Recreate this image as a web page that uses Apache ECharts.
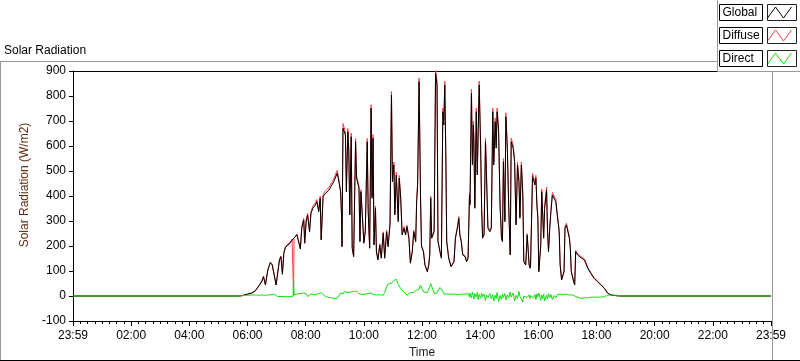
<!DOCTYPE html>
<html><head><meta charset="utf-8">
<script src="https://cdn.jsdelivr.net/npm/echarts@6/dist/echarts.min.js"></script>
<style>html,body{margin:0;padding:0;background:#fff}#c{width:800px;height:361px}</style>
</head><body><div id="c"></div>
<script>
// time in minutes since 23:59 of the previous day
const times = [
0,340,348,359,369,376,380,385,390,393,
397,402,407,411,415,419,422,426,429,432,
435,438,443,448,452,454,455,456,457,462,
466,469,472,476,478,481,484,488,491,495,
500,503,507,510,512,516,521,528,531,538,
545,548,552,554,555,557,560,562,564,567,
569,571,574,576,579,583,585,590,592,594,
598,600,603,607,609,612,615,617,619,621,
624,626,629,633,636,640,643,647,650,654,
657,659,662,664,667,671,673,676,679,683,
686,689,693,696,700,703,707,709,711,714,
717,719,723,726,731,734,736,738,740,745,
748,750,751,753,757,760,763,765,767,769,
771,775,780,786,789,793,796,798,801,804,
809,812,815,818,819,822,824,826,827,829,
832,834,836,838,841,843,845,848,851,853,
856,860,863,866,868,871,873,875,878,881,
884,886,888,891,893,896,899,902,904,908,
911,914,917,920,922,925,928,930,934,937,
941,943,944,948,950,953,955,957,959,961,
965,967,969,971,973,977,979,981,984,986,
989,993,996,999,1003,1005,1008,1011,1013,1015,
1018,1022,1024,1026,1028,1031,1033,1035,1037,1041,
1048,1055,1062,1068,1075,1082,1089,1096,1103,1110,
1122,1130,1440];
const globalVals = [
0,0,1,7,12,20,31,44,60,77,
44,104,133,124,117,44,40,144,157,87,
171,193,204,211,224,227,228,230,231,244,
237,188,271,304,211,297,324,257,331,351,
364,377,337,391,224,397,411,424,424,457,
491,464,417,324,197,671,677,644,417,657,
577,324,637,191,157,617,471,431,217,417,
284,211,257,617,337,191,751,391,631,204,
351,177,144,204,151,251,151,257,197,284,
804,457,524,324,484,297,471,391,244,271,
244,277,231,131,177,257,217,377,444,857,
391,197,177,124,97,124,164,391,231,257,
891,884,844,217,177,151,737,684,844,577,
217,151,117,137,231,271,311,244,217,164,
157,137,151,404,364,811,524,684,617,351,
737,484,657,844,591,351,231,244,617,484,
271,257,271,737,524,697,591,737,657,364,
231,217,537,297,717,591,351,164,617,591,
537,284,524,457,311,524,404,137,124,244,
124,111,124,477,484,444,471,364,311,97,
204,417,417,231,351,424,257,177,284,337,
404,411,377,324,257,124,64,64,97,271,
284,277,231,191,97,91,57,44,177,164,
153,144,111,91,71,57,44,31,11,4,
1,0,0];
const diffuseVals = [
0,0,1,7,12,21,32,46,62,80,
46,106,136,126,119,45,42,148,160,89,
175,197,208,215,228,231,3,232,235,249,
242,192,277,311,214,304,331,262,339,360,
373,386,344,400,228,407,421,434,434,468,
503,472,424,330,200,690,690,656,425,670,
590,330,652,195,162,630,480,440,222,425,
290,216,262,630,345,196,765,400,645,208,
360,181,148,209,155,257,155,264,203,292,
818,466,536,332,495,304,482,400,250,278,
250,284,237,134,181,263,222,386,455,872,
400,202,181,127,99,127,168,400,236,263,
905,900,860,222,181,155,752,700,860,590,
222,155,119,140,236,277,318,250,222,168,
161,140,155,413,372,828,536,700,632,359,
752,495,672,860,604,359,236,250,632,495,
277,263,277,752,536,712,604,752,672,372,
236,222,550,304,733,604,359,168,632,604,
550,291,536,468,318,536,413,140,127,250,
127,114,127,490,497,455,483,372,318,99,
209,428,428,236,360,435,263,181,291,346,
414,421,386,332,263,127,66,66,99,278,
291,284,236,195,99,93,58,45,182,169,
158,149,115,95,74,60,46,33,12,4,
1,0,0];
const directVals = [
0,0,1,3,4,4,4,3,4,4,
3,4,5,8,7,3,-2,-3,-2,-3,
-2,-3,-3,-2,-3,-1,75,4,2,8,
3,10,2,12,4,9,-2,6,8,3,
5,4,10,2,13,6,-2,-6,-14,-9,
-10,-6,12,4,15,8,18,10,20,14,
22,10,16,8,18,12,20,9,17,11,
6,14,8,15,10,5,12,8,14,6,
11,4,9,5,10,3,14,37,48,55,
51,58,62,60,67,46,40,30,24,15,
8,4,8,14,17,15,22,24,30,28,
44,38,16,11,14,20,37,50,44,11,
13,10,12,14,34,40,20,8,7,9,
8,6,7,8,7,5,8,7,6,8,
7,6,10,-5,12,-8,15,2,-12,9,
-4,14,-15,6,-9,12,-3,8,-18,4,
-6,10,-12,5,-20,3,-10,14,-22,2,
-14,8,-6,10,-16,4,-8,16,-4,12,
-20,3,-10,18,-2,6,-24,0,8,-6,
4,-10,2,10,-8,6,-14,9,-4,12,
-18,3,-10,8,-20,4,-12,10,-6,6,
-14,2,-8,5,7,8,7,6,7,6,
7,5,4,4,3,4,4,3,-2,-8,
-9,-8,-7,-5,-4,-5,-4,-3,3,4,
3,0,0];
const xTickLabels = ['23:59','02:00','04:00','06:00','08:00','10:00','12:00','14:00','16:00','18:00','20:00','22:00','23:59'];
const seriesNames = ['Global','Diffuse','Direct'];
const seriesColors = ['#000000','#ff4040','#10e010'];

[globalVals, diffuseVals, directVals].forEach(a => {
  if (a.length !== times.length) throw new Error('length mismatch ' + a.length + ' vs ' + times.length);
});

const FONT = '"Liberation Sans", Arial, sans-serif';
const pairs = vals => times.map((t, i) => [t, vals[i]]);
const chart = echarts.init(document.getElementById('c'), null, {renderer: 'canvas'});

const frames = [0, 1, 2].map(i => ({
  type: 'rect', z: 61, silent: true,
  shape: {x: 767.5, y: 4.5 + 23 * i, width: 29, height: 16},
  style: {fill: 'none', stroke: '#222', lineWidth: 1}
}));

chart.setOption({
  animation: false,
  backgroundColor: '#fff',
  title: {text: 'Solar Radiation', left: 4, top: 45, padding: 0,
    textStyle: {fontSize: 12, fontWeight: 'normal', color: '#000', fontFamily: FONT}},
  grid: {left: 73, right: 29, top: 71, bottom: 40, outerBoundsMode: 'none', containLabel: false},
  legend: {
    orient: 'vertical', right: 6, top: 4, align: 'right', z: 60, padding: 0,
    itemWidth: 24, itemHeight: 12, itemGap: 6, selectedMode: false,
    icon: 'path://M0,11 L8,0 L16,11 L24,0',
    itemStyle: {color: 'none', borderWidth: 1},
    data: seriesNames.map((n, i) => ({name: n, itemStyle: {borderColor: seriesColors[i]}})),
    formatter: n => '{a|' + n + '}',
    textStyle: {color: '#000', fontSize: 12, fontFamily: FONT, borderColor: '#000', borderWidth: 1,
      padding: [1, 3, 1, 3],
      rich: {a: {width: 37, align: 'left', fontSize: 12, fontFamily: FONT, lineHeight: 14, color: '#000'}}}
  },
  xAxis: [{
    type: 'value', min: 0, max: 1440, interval: 120,
    axisLine: {onZero: false, lineStyle: {color: '#000', width: 1}},
    axisTick: {length: 5, lineStyle: {color: '#000'}},
    minorTick: {show: true, splitNumber: 8, length: 3, lineStyle: {color: '#000'}},
    axisLabel: {formatter: v => xTickLabels[Math.round(v / 120)], margin: 9, color: '#000', fontSize: 12, fontFamily: FONT,
      showMinLabel: true, showMaxLabel: true},
    splitLine: {show: false},
    name: 'Time', nameLocation: 'middle', nameGap: 26,
    nameTextStyle: {color: '#1a1a1a', fontSize: 12, fontFamily: FONT}
  }, {
    type: 'value', position: 'top', min: 0, max: 1440,
    axisLine: {onZero: false, lineStyle: {color: '#000', width: 1}},
    axisTick: {show: false}, axisLabel: {show: false}, splitLine: {show: false}
  }],
  yAxis: {
    type: 'value', min: -100, max: 900, interval: 100,
    axisLine: {show: true, onZero: false, lineStyle: {color: '#000', width: 1}},
    axisTick: {show: true, length: 4, lineStyle: {color: '#000'}},
    axisLabel: {margin: 7, color: '#000', fontSize: 12, fontFamily: FONT},
    splitLine: {show: false},
    name: 'Solar Radiation (W/m2)', nameLocation: 'middle', nameGap: 35,
    nameTextStyle: {color: '#602a10', fontSize: 12, fontFamily: FONT, padding: [0, 0, 0, 22]}
  },
  series: [
    {type: 'line', name: 'Diffuse', data: pairs(diffuseVals), symbol: 'none', silent: true, z: 2,
      lineStyle: {color: seriesColors[1], width: 1}, itemStyle: {color: seriesColors[1]}},
    {type: 'line', name: 'Global', data: pairs(globalVals), symbol: 'none', silent: true, z: 3,
      lineStyle: {color: seriesColors[0], width: 1}, itemStyle: {color: seriesColors[0]}},
    {type: 'line', name: 'Direct', data: pairs(directVals), symbol: 'none', silent: true, z: 4,
      lineStyle: {color: seriesColors[2], width: 1}, itemStyle: {color: seriesColors[2]}}
  ],
  graphic: [
    {type: 'line', z: 50, silent: true, shape: {x1: 0, y1: 61.5, x2: 718, y2: 61.5}, style: {stroke: '#999', lineWidth: 1}},
    {type: 'line', z: 50, silent: true, shape: {x1: 0.5, y1: 61, x2: 0.5, y2: 361}, style: {stroke: '#999', lineWidth: 1}},
    {type: 'line', z: 50, silent: true, shape: {x1: 772.5, y1: 72, x2: 772.5, y2: 361}, style: {stroke: '#999', lineWidth: 1}},
    {type: 'line', z: 50, silent: true, shape: {x1: 0, y1: 360.5, x2: 800, y2: 360.5}, style: {stroke: '#000', lineWidth: 1}},
    {type: 'rect', z: 50, silent: true, shape: {x: 717.5, y: -1.5, width: 90, height: 73}, style: {fill: '#fff', stroke: '#999', lineWidth: 1}}
  ].concat(frames)
});
</script>
</body></html>
